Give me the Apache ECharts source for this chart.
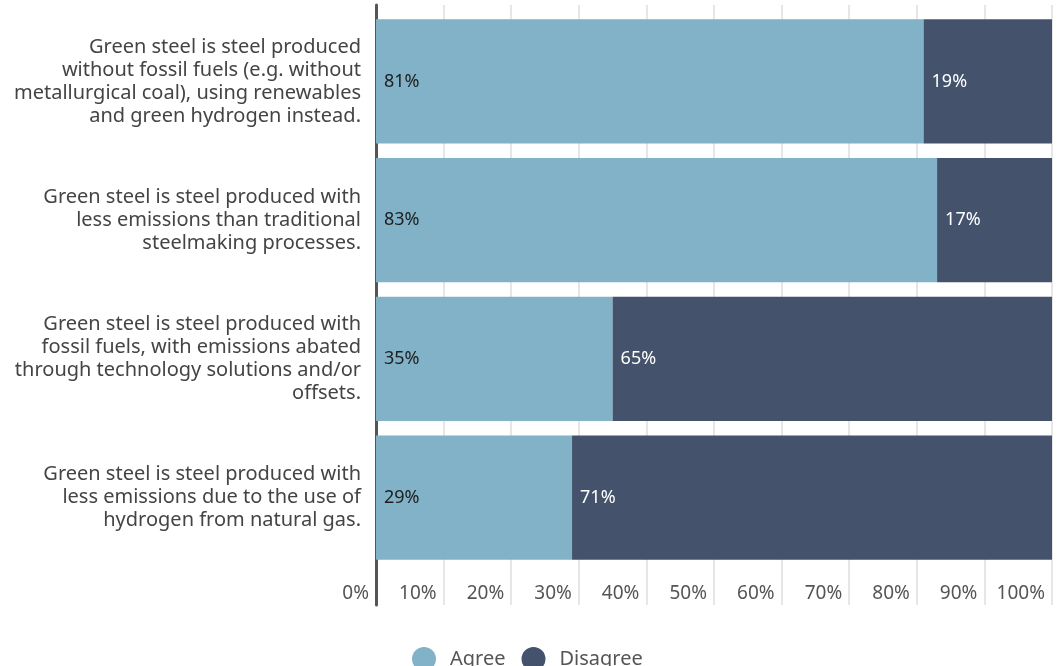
<!DOCTYPE html>
<html>
<head>
<meta charset="utf-8">
<script src="https://cdn.jsdelivr.net/npm/echarts@6/dist/echarts.min.js"></script>
<style>html,body{margin:0;padding:0;background:#fff;}#chart{width:1058px;height:666px;}</style>
</head>
<body>
<div id="chart"></div>
<script>
const categories = [
  "Green steel is steel produced\nwithout fossil fuels (e.g. without\nmetallurgical coal), using renewables\nand green hydrogen instead.",
  "Green steel is steel produced with\nless emissions than traditional\nsteelmaking processes.",
  "Green steel is steel produced with\nfossil fuels, with emissions abated\nthrough technology solutions and/or\noffsets.",
  "Green steel is steel produced with\nless emissions due to the use of\nhydrogen from natural gas."
];
const agree = [81, 83, 35, 29];
const disagree = [19, 17, 65, 71];
const tickLabels = ["0%","10%","20%","30%","40%","50%","60%","70%","80%","90%","100%"];

const FONT = "'Noto Sans', 'Open Sans', sans-serif";
const chart = echarts.init(document.getElementById('chart'), null, {renderer: 'canvas'});
chart.setOption({
  animation: false,
  textStyle: {fontFamily: FONT},
  grid: [
    {left: 376, right: 6, top: 5, bottom: 61},
    {left: 376, right: 6, top: 12, height: 555}
  ],
  xAxis: [
    {
      gridIndex: 0, type: 'value', min: 0, max: 100, interval: 10,
      axisLine: {show: false}, axisTick: {show: false},
      splitLine: {show: true, lineStyle: {color: '#dedede', width: 1.5}},
      axisLabel: {
        inside: true, margin: 2, align: 'right', padding: [0, 7, 0, 0],
        color: '#555', fontSize: 19, fontFamily: FONT,
        formatter: (v) => tickLabels[Math.round(v / 10)]
      }
    },
    {gridIndex: 1, type: 'value', min: 0, max: 100, show: false}
  ],
  yAxis: [
    {
      gridIndex: 0, type: 'value', min: 0, max: 1,
      axisLine: {show: true, lineStyle: {color: '#555', width: 3}},
      axisTick: {show: false}, axisLabel: {show: false}, splitLine: {show: false}
    },
    {
      gridIndex: 1, type: 'category', data: categories, inverse: true,
      axisLine: {show: false}, axisTick: {show: false},
      axisLabel: {
        margin: 15, align: 'right', color: '#444', fontSize: 20, lineHeight: 23,
        fontFamily: FONT
      }
    }
  ],
  legend: {
    left: 407, top: 642, itemWidth: 24, itemHeight: 24, itemGap: 16, icon: 'circle',
    textStyle: {color: '#555', fontSize: 20, fontFamily: FONT, padding: [0, 0, 0, 9]},
    data: ['Agree', 'Disagree']
  },
  series: [
    {
      name: 'Agree', type: 'bar', stack: 'total', xAxisIndex: 1, yAxisIndex: 1,
      barCategoryGap: '10.6%', data: agree,
      itemStyle: {color: '#82b2c8'},
      label: {show: true, position: 'insideLeft', distance: 8, color: '#1e1e1e', fontSize: 18,
        fontFamily: FONT, formatter: (p) => p.value + '%'}
    },
    {
      name: 'Disagree', type: 'bar', stack: 'total', xAxisIndex: 1, yAxisIndex: 1,
      data: disagree,
      itemStyle: {color: '#44536b'},
      label: {show: true, position: 'insideLeft', distance: 8, color: '#ffffff', fontSize: 18,
        fontFamily: FONT, formatter: (p) => p.value + '%'}
    }
  ]
});
</script>
</body>
</html>
